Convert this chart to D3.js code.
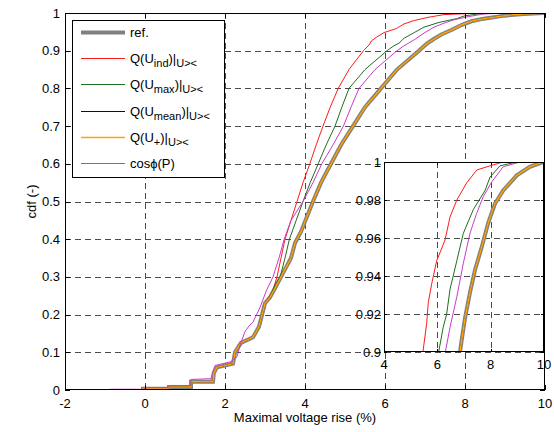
<!DOCTYPE html>
<html><head><meta charset="utf-8">
<script src="https://cdn.jsdelivr.net/npm/d3@7"></script>
<style>body{margin:0;background:#fff} svg{display:block} text{font-family:"Liberation Sans",Arial,sans-serif;fill:#000}</style>
</head><body><svg id="c" width="554" height="432"></svg>
<script>
// ---- data (x = maximal voltage rise %, y = cdf) ----
const refCdf = [[-0.05,0],[-0.05,0.003],[0.6,0.003],[0.6,0.008],[1.15,0.008],[1.15,0.022],[1.7,0.022],[1.72,0.045],[1.8,0.06],[2.2,0.07],[2.25,0.1],[2.4,0.125],[2.7,0.14],[2.85,0.168],[3.0,0.23],[3.12,0.245],[3.25,0.27],[3.4,0.3],[3.55,0.33],[3.65,0.35],[3.75,0.39],[3.9,0.42],[4.05,0.46],[4.2,0.5],[4.4,0.55],[4.65,0.6],[4.9,0.65],[5.2,0.7],[5.5,0.75],[5.9,0.8],[6.3,0.85],[6.85,0.9],[6.91,0.906],[7.04,0.918],[7.22,0.931],[7.41,0.943],[7.66,0.955],[7.91,0.968],[8.16,0.978],[8.47,0.985],[8.98,0.993],[9.47,0.9975],[9.97,1.0],[10,1]];
const qIndCdf = [[-0.05,0],[-0.05,0.003],[0.6,0.003],[0.6,0.008],[1.15,0.008],[1.15,0.022],[1.7,0.022],[1.72,0.045],[1.8,0.06],[2.2,0.07],[2.25,0.1],[2.4,0.125],[2.7,0.14],[2.85,0.168],[3.0,0.23],[3.12,0.25],[3.2,0.265],[3.3,0.3],[3.4,0.35],[3.5,0.4],[3.65,0.45],[3.8,0.5],[3.95,0.55],[4.12,0.6],[4.28,0.65],[4.45,0.7],[4.63,0.75],[4.83,0.8],[5.1,0.85],[5.46,0.9],[5.6,0.915],[5.66,0.926],[5.79,0.936],[5.975,0.948],[6.29,0.959],[6.475,0.971],[6.73,0.98],[7.1,0.989],[7.48,0.9958],[7.975,0.998],[8.47,1.0],[10,1]];
const qMaxCdf = [[-0.05,0],[-0.05,0.003],[0.6,0.003],[0.6,0.008],[1.15,0.008],[1.15,0.022],[1.7,0.022],[1.72,0.045],[1.8,0.06],[2.2,0.07],[2.25,0.1],[2.4,0.125],[2.7,0.14],[2.85,0.168],[3.0,0.23],[3.12,0.245],[3.25,0.28],[3.38,0.3],[3.5,0.35],[3.61,0.4],[3.78,0.45],[3.95,0.5],[4.13,0.55],[4.33,0.6],[4.53,0.65],[4.75,0.7],[4.92,0.75],[5.1,0.8],[5.5,0.85],[6.05,0.9],[6.22,0.913],[6.35,0.92],[6.475,0.933],[6.73,0.948],[6.975,0.9625],[7.35,0.975],[7.79,0.985],[7.975,0.992],[8.35,0.998],[8.98,1.0],[10,1]];
const qMeanCdf = [[-0.05,0],[-0.05,0.003],[0.6,0.003],[0.6,0.008],[1.15,0.008],[1.15,0.022],[1.7,0.022],[1.72,0.045],[1.8,0.06],[2.2,0.07],[2.25,0.1],[2.4,0.125],[2.7,0.14],[2.85,0.168],[3.0,0.23],[3.12,0.245],[3.25,0.27],[3.4,0.3],[3.55,0.33],[3.65,0.35],[3.75,0.39],[3.9,0.42],[4.05,0.46],[4.2,0.5],[4.4,0.55],[4.65,0.6],[4.9,0.65],[5.2,0.7],[5.5,0.75],[5.9,0.8],[6.3,0.85],[6.85,0.9],[6.91,0.906],[7.04,0.918],[7.22,0.931],[7.41,0.943],[7.66,0.955],[7.91,0.968],[8.16,0.978],[8.47,0.985],[8.98,0.993],[9.47,0.9975],[9.97,1.0],[10,1]];
const qPlusCdf = [[-0.05,0],[-0.05,0.003],[0.6,0.003],[0.6,0.008],[1.15,0.008],[1.15,0.022],[1.7,0.022],[1.72,0.045],[1.8,0.06],[2.2,0.07],[2.25,0.1],[2.4,0.125],[2.7,0.14],[2.85,0.168],[3.0,0.23],[3.12,0.245],[3.25,0.27],[3.4,0.3],[3.55,0.33],[3.65,0.35],[3.75,0.39],[3.9,0.42],[4.05,0.46],[4.2,0.5],[4.4,0.55],[4.65,0.6],[4.9,0.65],[5.2,0.7],[5.5,0.75],[5.9,0.8],[6.3,0.85],[6.85,0.9],[6.91,0.906],[7.04,0.918],[7.22,0.931],[7.41,0.943],[7.66,0.955],[7.91,0.968],[8.16,0.978],[8.47,0.985],[8.98,0.993],[9.47,0.9975],[9.97,1.0],[10,1]];
const cosPhiCdf = [[-0.87,0],[-0.87,0.002],[0,0.002],[0,0.006],[0.6,0.006],[0.6,0.012],[1.15,0.012],[1.15,0.028],[1.65,0.03],[1.7,0.05],[1.75,0.065],[2.15,0.075],[2.3,0.088],[2.38,0.12],[2.5,0.155],[2.6,0.17],[2.7,0.18],[2.88,0.22],[3.04,0.265],[3.2,0.3],[3.35,0.35],[3.48,0.4],[3.65,0.45],[3.95,0.5],[4.2,0.55],[4.42,0.6],[4.7,0.65],[4.96,0.7],[5.15,0.75],[5.35,0.8],[5.75,0.85],[6.3,0.9],[6.475,0.913],[6.73,0.929],[6.975,0.9467],[7.225,0.9625],[7.475,0.973],[7.72,0.9817],[8.04,0.9895],[8.47,0.9975],[9.1,1.0],[10,1]];

const xTicks = [-2,0,2,4,6,8,10];
const yTicks = [0,0.1,0.2,0.3,0.4,0.5,0.6,0.7,0.8,0.9,1];
const yTickLabels = ["0","0.1","0.2","0.3","0.4","0.5","0.6","0.7","0.8","0.9","1"];
const insetXTicks = [4,6,8,10];
const insetYTicks = [0.9,0.92,0.94,0.96,0.98,1];
const insetYTickLabels = ["0.9","0.92","0.94","0.96","0.98","1"];
const seriesNames = ["ref","qInd","qMax","qMean","qPlus","cosPhi"];

// ---- styles ----
const series = [
  {key:"ref", data:refCdf, color:"#808080", width:4},
  {key:"qInd", data:qIndCdf, color:"#ff1a1a", width:1},
  {key:"qMax", data:qMaxCdf, color:"#1f6e1f", width:1},
  {key:"qMean", data:qMeanCdf, color:"#00008b", width:1},
  {key:"qPlus", data:qPlusCdf, color:"#ffa500", width:1.5},
  {key:"cosPhi", data:cosPhiCdf, color:"#c83cc8", width:1}
];

const svg = d3.select("#c");
const M = {l:65, r:545, t:13, b:390};
const x = d3.scaleLinear().domain([-2,10]).range([M.l,M.r]);
const y = d3.scaleLinear().domain([0,1]).range([M.b,M.t]);
const I = {l:384, r:544, t:162, b:352};
const xi = d3.scaleLinear().domain([4,10]).range([I.l,I.r]);
const yi = d3.scaleLinear().domain([0.9,1]).range([I.b,I.t]);

const defs = svg.append("defs");
defs.append("clipPath").attr("id","cm").append("rect").attr("x",M.l).attr("y",M.t).attr("width",M.r-M.l).attr("height",M.b-M.t);
defs.append("clipPath").attr("id","ci").append("rect").attr("x",I.l).attr("y",I.t).attr("width",I.r-I.l).attr("height",I.b-I.t);

const gridStyle = g => g.attr("stroke","#4a4a4a").attr("stroke-width",1).attr("stroke-dasharray","6,4").attr("fill","none");

// ---- main grid ----
const mg = svg.append("g");
xTicks.filter(t=>t>-2&&t<10).forEach(t=>{
  mg.append("line").attr("x1",x(t)+0.5).attr("x2",x(t)+0.5).attr("y1",M.t).attr("y2",M.b).call(gridStyle);
});
yTicks.filter(t=>t>0&&t<1).forEach(t=>{
  mg.append("line").attr("x1",M.l).attr("x2",M.r).attr("y1",Math.round(y(t))+0.5).attr("y2",Math.round(y(t))+0.5).call(gridStyle);
});

// ---- main curves ----
const lineMain = d3.line().x(d=>x(d[0])).y(d=>y(d[1]));
const mc = svg.append("g").attr("clip-path","url(#cm)");
series.forEach(s=>{
  mc.append("path").attr("d",lineMain(s.data)).attr("fill","none").attr("stroke",s.color).attr("stroke-width",s.width).attr("stroke-linejoin","miter");
});

// ---- main axes (box + inward ticks) ----
const ax = svg.append("g").attr("stroke","#000").attr("stroke-width",1);
ax.append("rect").attr("x",M.l+0.5).attr("y",M.t+0.5).attr("width",M.r-M.l-1).attr("height",M.b-M.t-1).attr("fill","none");
const tl = 5;
xTicks.forEach(t=>{
  const px = x(t)+0.5;
  ax.append("line").attr("x1",px).attr("x2",px).attr("y1",M.b).attr("y2",M.b-tl);
  ax.append("line").attr("x1",px).attr("x2",px).attr("y1",M.t).attr("y2",M.t+tl);
});
yTicks.forEach(t=>{
  const py = Math.round(y(t))+0.5;
  ax.append("line").attr("x1",M.l).attr("x2",M.l+tl).attr("y1",py).attr("y2",py);
  ax.append("line").attr("x1",M.r).attr("x2",M.r-tl).attr("y1",py).attr("y2",py);
});
const lab = svg.append("g").attr("font-size",13);
xTicks.forEach(t=>{
  lab.append("text").attr("x",x(t)).attr("y",M.b+18).attr("text-anchor","middle").text(String(t));
});
yTicks.forEach((t,i)=>{
  lab.append("text").attr("x",M.l-5).attr("y",y(t)+4.5).attr("text-anchor","end").text(yTickLabels[i]);
});
lab.append("text").attr("x",(M.l+M.r)/2).attr("y",422).attr("text-anchor","middle").text("Maximal voltage rise (%)");
lab.append("text").attr("transform",`translate(36,${(M.t+M.b)/2}) rotate(-90)`).attr("text-anchor","middle").text("cdf (-)");

// ---- legend ----
const L = {x:72, y:20, w:152, h:157};
const lg = svg.append("g");
lg.append("rect").attr("x",L.x+0.5).attr("y",L.y+0.5).attr("width",L.w).attr("height",L.h).attr("fill","#fff").attr("stroke","#000");
const rowY = [32,58,84,111,137,163];
const legendText = [
  [["ref.",0]],
  [["Q(U",0],["ind",1],[")|",0],["U><",1]],
  [["Q(U",0],["max",1],[")|",0],["U><",1]],
  [["Q(U",0],["mean",1],[")|",0],["U><",1]],
  [["Q(U",0],["+",1],[")|",0],["U><",1]],
  [["cos",0],["\u03d5",0],["(P)",0]]
];
series.forEach((s,i)=>{
  lg.append("line").attr("x1",81).attr("x2",125).attr("y1",rowY[i]+0.5).attr("y2",rowY[i]+0.5).attr("stroke",s.color).attr("stroke-width",s.width);
  const t = lg.append("text").attr("x",130).attr("y",rowY[i]+5).attr("font-size",13);
  let sub = false;
  legendText[i].forEach(([str,isSub])=>{
    const sp = t.append("tspan").text(str);
    if(isSub && !sub){ sp.attr("dy",4).attr("font-size",11); sub=true; }
    else if(isSub && sub){ sp.attr("font-size",11); }
    else if(!isSub && sub){ sp.attr("dy",-4); sub=false; }
  });
});

// ---- inset ----
const ig = svg.append("g");
ig.append("rect").attr("x",I.l).attr("y",I.t).attr("width",I.r-I.l).attr("height",I.b-I.t).attr("fill","#fff");
insetXTicks.filter(t=>t>4&&t<10).forEach(t=>{
  ig.append("line").attr("x1",Math.round(xi(t))+0.5).attr("x2",Math.round(xi(t))+0.5).attr("y1",I.t).attr("y2",I.b).call(gridStyle);
});
insetYTicks.filter(t=>t>0.9&&t<1).forEach(t=>{
  ig.append("line").attr("x1",I.l).attr("x2",I.r).attr("y1",Math.round(yi(t))+0.5).attr("y2",Math.round(yi(t))+0.5).call(gridStyle);
});
const lineInset = d3.line().x(d=>xi(d[0])).y(d=>yi(d[1]));
const icv = ig.append("g").attr("clip-path","url(#ci)");
series.forEach(s=>{
  icv.append("path").attr("d",lineInset(s.data)).attr("fill","none").attr("stroke",s.color).attr("stroke-width",s.width);
});
const iax = ig.append("g").attr("stroke","#000").attr("stroke-width",1);
iax.append("rect").attr("x",I.l+0.5).attr("y",I.t+0.5).attr("width",I.r-I.l-1).attr("height",I.b-I.t-1).attr("fill","none");
insetXTicks.forEach(t=>{
  const px = Math.round(xi(t))+0.5;
  iax.append("line").attr("x1",px).attr("x2",px).attr("y1",I.b).attr("y2",I.b-3);
  iax.append("line").attr("x1",px).attr("x2",px).attr("y1",I.t).attr("y2",I.t+3);
});
insetYTicks.forEach(t=>{
  const py = Math.round(yi(t))+0.5;
  iax.append("line").attr("x1",I.l).attr("x2",I.l+3).attr("y1",py).attr("y2",py);
  iax.append("line").attr("x1",I.r).attr("x2",I.r-3).attr("y1",py).attr("y2",py);
});
insetXTicks.forEach(t=>{
  lab.append("text").attr("x",xi(t)).attr("y",I.b+17).attr("text-anchor","middle").text(String(t));
});
insetYTicks.forEach((t,i)=>{
  lab.append("text").attr("x",I.l-3).attr("y",yi(t)+4.5).attr("text-anchor","end").text(insetYTickLabels[i]);
});
</script></body></html>
